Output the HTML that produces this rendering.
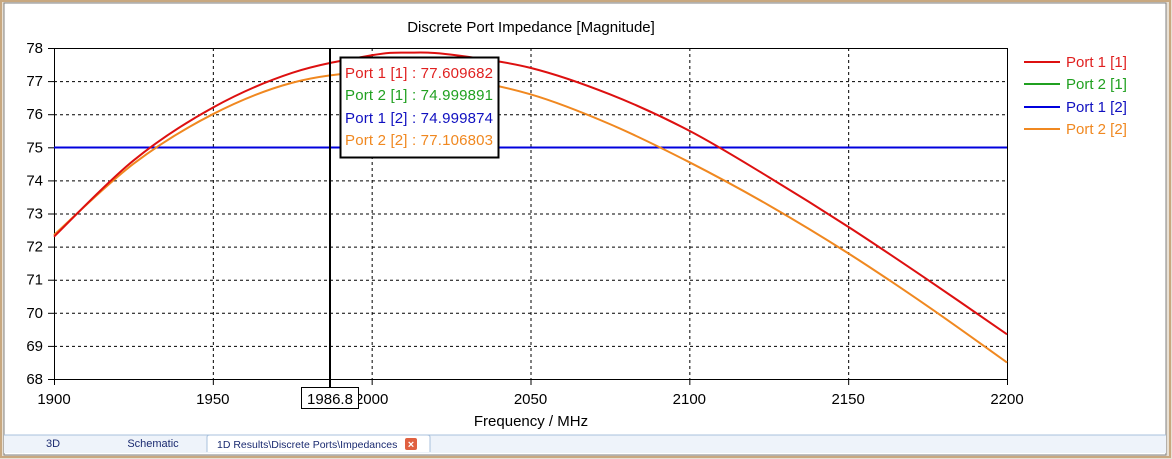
<!DOCTYPE html>
<html><head><meta charset="utf-8"><style>
body{margin:0;width:1172px;height:459px;overflow:hidden;background:#f0f0f0;font-family:"Liberation Sans","DejaVu Sans",sans-serif;}
</style></head><body>
<svg width="1172" height="459" xmlns="http://www.w3.org/2000/svg" style="position:absolute;left:0;top:0">
<rect x="0" y="0" width="1172" height="459" fill="#e8e0d4"/>
<rect x="1" y="1" width="1169" height="456" fill="none" stroke="#c8a880" stroke-width="2"/>
<rect x="4" y="3" width="1162" height="452" fill="#fff" stroke="#808080" stroke-width="1"/>
<rect x="4" y="435" width="1162" height="18" fill="#eef3fa"/>
<line x1="4" y1="435" x2="1166" y2="435" stroke="#a8c0dc"/>
<path d="M207,452 L207,437 Q207,435 210,435 L427,435 Q430,435 430,437 L430,452" fill="#fff" stroke="#a8c0dc"/>
<text x="53" y="447" font-size="11" fill="#1a2a70" text-anchor="middle">3D</text>
<text x="153" y="447" font-size="11" fill="#1a2a70" text-anchor="middle">Schematic</text>
<text x="217" y="448" font-size="10.5" fill="#1a2a70">1D Results\Discrete Ports\Impedances</text>
<rect x="405" y="438" width="12" height="12" rx="2" fill="#e06040"/>
<text x="411" y="448" font-size="11" fill="#fff" text-anchor="middle" font-weight="bold">×</text>
<text x="531" y="32" font-size="15" text-anchor="middle" fill="#000">Discrete Port Impedance [Magnitude]</text>
<g id="grid" stroke="#000" stroke-dasharray="3,3" stroke-width="1"></g>
<rect x="54.5" y="48.5" width="953" height="331" fill="none" stroke="#000"/>
<g id="ticks" stroke="#000"></g>
<g id="labels" font-size="15" fill="#000"></g>
<line x1="54" y1="147.5" x2="1007" y2="147.5" stroke="#0000dd" stroke-width="2"/>
<path id="org" fill="none" stroke="#f08820" stroke-width="2"/>
<path id="red" fill="none" stroke="#dd1010" stroke-width="2"/>
<line x1="330" y1="48" x2="330" y2="387" stroke="#000" stroke-width="2"/>
<rect x="340.5" y="57.5" width="158" height="100" fill="#fff" stroke="#000" stroke-width="2"/>
<g font-size="15">
<text x="345" y="78" fill="#e02020" textLength="148">Port 1 [1] : 77.609682</text>
<text x="345" y="100" fill="#20a020" textLength="148">Port 2 [1] : 74.999891</text>
<text x="345" y="123" fill="#1010c0" textLength="148">Port 1 [2] : 74.999874</text>
<text x="345" y="145" fill="#f08820" textLength="148">Port 2 [2] : 77.106803</text>
</g>
<rect x="301.5" y="387.5" width="57" height="21" fill="#fff" stroke="#000"/>
<text x="330" y="404" font-size="15" text-anchor="middle">1986.8</text>
<text x="531" y="426" font-size="15" text-anchor="middle">Frequency / MHz</text>
<g stroke-width="2">
<line x1="1024" y1="62" x2="1060" y2="62" stroke="#dd1010"/>
<line x1="1024" y1="84" x2="1060" y2="84" stroke="#20a020"/>
<line x1="1024" y1="107" x2="1060" y2="107" stroke="#0000dd"/>
<line x1="1024" y1="129" x2="1060" y2="129" stroke="#f08820"/>
</g>
<g font-size="15">
<text x="1066" y="67" fill="#e02020">Port 1 [1]</text>
<text x="1066" y="89" fill="#20a020">Port 2 [1]</text>
<text x="1066" y="112" fill="#1010c0">Port 1 [2]</text>
<text x="1066" y="134" fill="#f08820">Port 2 [2]</text>
</g>
</svg>
<script>
const X=f=>54+(f-1900)*953/300, Y=v=>48+(78-v)*33.1;
const NS="http://www.w3.org/2000/svg";
const g=document.getElementById('grid'),t=document.getElementById('ticks'),l=document.getElementById('labels');
function el(p,tag,a,txt){const e=document.createElementNS(NS,tag);for(const k in a)e.setAttribute(k,a[k]);if(txt)e.textContent=txt;p.appendChild(e);}
for(let f=1950;f<2200;f+=50){el(g,'line',{x1:X(f)+.5,y1:48,x2:X(f)+.5,y2:379});}
for(let v=69;v<78;v++){el(g,'line',{x1:54,y1:Y(v)+.5,x2:1007,y2:Y(v)+.5});}
for(let f=1900;f<=2200;f+=50){el(t,'line',{x1:X(f)+.5,y1:379,x2:X(f)+.5,y2:385});el(l,'text',{x:X(f),y:404,'text-anchor':'middle'},String(f));}
for(let v=68;v<=78;v++){el(t,'line',{x1:48,y1:Y(v)+.5,x2:54,y2:Y(v)+.5});el(l,'text',{x:43,y:Y(v)+5,'text-anchor':'end'},String(v));}
function path(pts){
 const P=pts.map(p=>[X(p[0]),Y(p[1])]);let d='M'+P[0];
 for(let i=0;i<P.length-1;i++){const p0=P[Math.max(0,i-1)],p1=P[i],p2=P[i+1],p3=P[Math.min(P.length-1,i+2)];
 const c1=[p1[0]+(p2[0]-p0[0])/6,p1[1]+(p2[1]-p0[1])/6],c2=[p2[0]-(p3[0]-p1[0])/6,p2[1]-(p3[1]-p1[1])/6];
 d+=' C'+c1+' '+c2+' '+p2;}return d;}
document.getElementById('red').setAttribute('d',path([[1900,72.3],[1925,74.6],[1950,76.2],[1975,77.25],[2000,77.78],[2012,77.86],[2025,77.8],[2050,77.4],[2075,76.6],[2100,75.5],[2125,74.1],[2150,72.6],[2175,71.0],[2200,69.35]]));
document.getElementById('org').setAttribute('d',path([[1900,72.35],[1925,74.5],[1950,76.0],[1975,76.95],[2000,77.27],[2025,77.1],[2050,76.6],[2075,75.7],[2100,74.55],[2125,73.25],[2150,71.8],[2175,70.2],[2200,68.5]]));
</script>
</body></html>
